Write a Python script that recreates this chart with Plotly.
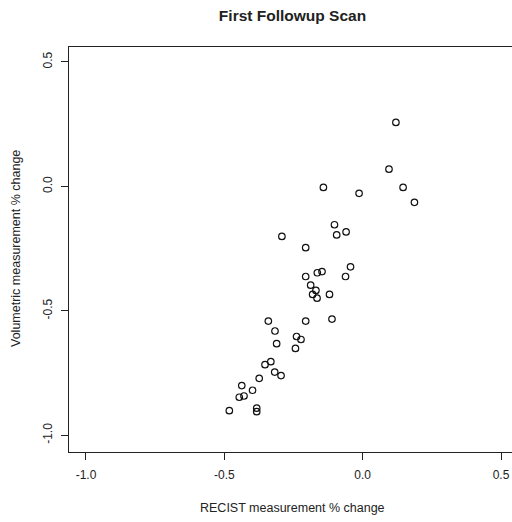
import plotly.graph_objects as go

# RECIST measurement % change (x) and Volumetric measurement % change (y)
recist = [0.120, 0.095, -0.142, 0.146, -0.013, 0.187, -0.102, -0.060, -0.094, -0.292,
          -0.206, -0.044, -0.062, -0.206, -0.164, -0.147, -0.188, -0.169, -0.181, -0.165,
          -0.120, -0.341, -0.206, -0.111, -0.317, -0.239, -0.223, -0.311, -0.243, -0.353,
          -0.332, -0.374, -0.318, -0.295, -0.437, -0.398, -0.446, -0.429, -0.482, -0.383,
          -0.383]
volumetric = [0.257, 0.069, -0.004, -0.004, -0.028, -0.064, -0.154, -0.183, -0.195, -0.201,
              -0.246, -0.323, -0.362, -0.362, -0.347, -0.342, -0.397, -0.418, -0.434, -0.449,
              -0.434, -0.541, -0.541, -0.533, -0.581, -0.603, -0.615, -0.632, -0.651, -0.716,
              -0.704, -0.771, -0.746, -0.760, -0.800, -0.819, -0.847, -0.842, -0.901, -0.891,
              -0.905]

x_ticks = [-1.0, -0.5, 0.0, 0.5]
x_tick_labels = ["-1.0", "-0.5", "0.0", "0.5"]
y_ticks = [-1.0, -0.5, 0.0, 0.5]
y_tick_labels = ["-1.0", "-0.5", "0.0", "0.5"]

FONT = "Liberation Sans, Arial, sans-serif"
W, H = 512, 522
L, T, B = 69, 47, 452  # plot area pixel edges

fig = go.Figure()
fig.add_trace(go.Scatter(
    x=recist, y=volumetric, mode="markers",
    marker=dict(symbol="circle-open", size=6.5, color="#111111", line=dict(width=1.2, color="#111111")),
    showlegend=False, hoverinfo="x+y",
))

fig.update_layout(
    width=W, height=H,
    margin=dict(l=L, r=0, t=T, b=H - B, pad=0),
    paper_bgcolor="white", plot_bgcolor="white",
    font=dict(family=FONT, size=12, color="#222222"),
    title=dict(text="<b>First Followup Scan</b>", xref="container", yref="container",
               x=292.5 / W, xanchor="center", y=1 - 15.5 / H, yanchor="middle",
               font=dict(family=FONT, size=15.5, color="#222222")),
    xaxis=dict(range=[-1.0614, 0.5396], tickvals=x_ticks, ticktext=x_tick_labels,
               showgrid=False, zeroline=False, showline=True, mirror=True,
               linecolor="#222222", linewidth=1.3, ticks="outside", ticklen=7,
               tickcolor="#222222", tickwidth=1.2, ticklabelstandoff=4,
               tickfont=dict(family=FONT, size=12, color="#222222")),
    yaxis=dict(range=[-1.067, 0.560], tickvals=y_ticks, ticktext=y_tick_labels,
               showgrid=False, zeroline=False, showline=True, mirror=False,
               linecolor="#222222", linewidth=1.3, ticks="outside", ticklen=7,
               tickcolor="#222222", tickwidth=1.2, tickangle=-90, ticklabelstandoff=4,
               tickfont=dict(family=FONT, size=12, color="#222222")),
    annotations=[
        dict(text="RECIST measurement % change", xref="paper", yref="paper",
             x=(292 - L) / (W - L), y=-(508 - B) / (B - T), xanchor="center", yanchor="middle",
             showarrow=False, font=dict(family=FONT, size=12.5, color="#222222")),
        dict(text="Volumetric measurement % change", xref="paper", yref="paper",
             x=-(L - 16) / (W - L), y=(B - 249) / (B - T), xanchor="center", yanchor="middle",
             textangle=-90, showarrow=False, font=dict(family=FONT, size=12.5, color="#222222")),
    ],
)

fig.write_html("out.html", config={"displayModeBar": False},
               post_script="document.body.style.margin='0';document.body.style.overflow='hidden';")
